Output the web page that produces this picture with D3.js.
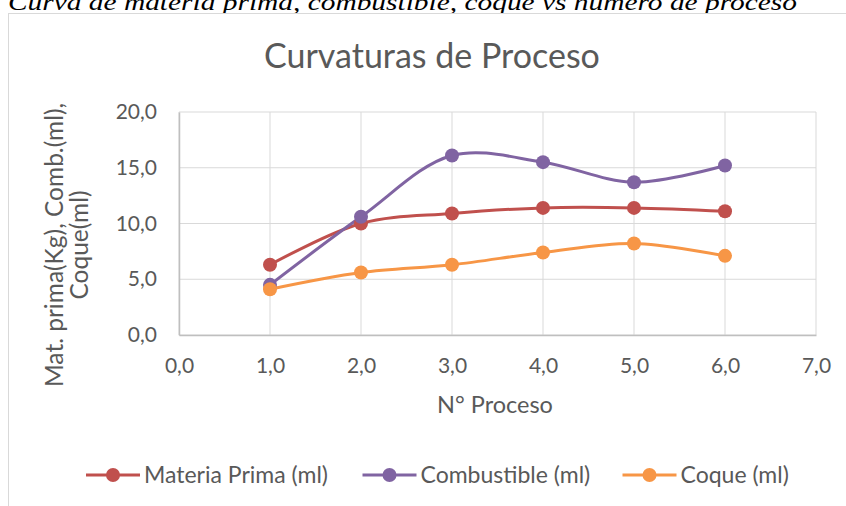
<!DOCTYPE html>
<html><head><meta charset="utf-8">
<script src="https://cdn.jsdelivr.net/npm/d3@7"></script>
<style>body{margin:0;background:#fff;}svg{display:block;}</style>
</head><body>
<svg id="c" width="846" height="506"></svg>
<script>
const categories = [1, 2, 3, 4, 5, 6];
const materiaPrima = [6.3, 10.0, 10.9, 11.4, 11.4, 11.1];
const combustible = [4.5, 10.6, 16.1, 15.5, 13.7, 15.2];
const coque = [4.1, 5.6, 6.3, 7.4, 8.2, 7.1];
const xTicks = [0, 1, 2, 3, 4, 5, 6, 7];
const yTicks = [0, 5, 10, 15, 20];
const seriesNames = ["Materia Prima (ml)", "Combustible (ml)", "Coque (ml)"];
const colors = ["#C0504D", "#8064A2", "#F79646"];
const series = [materiaPrima, combustible, coque];

const svg = d3.select("#c");
const font = "Lato, 'Open Sans', sans-serif";
const txt = "#595959";

// caption
svg.append("text").attr("x", 8).attr("y", 9.5)
  .attr("font-family", "'Liberation Serif', serif").attr("font-style", "italic")
  .attr("font-size", 24).attr("fill", "#000")
  .attr("textLength", 789).attr("lengthAdjust", "spacingAndGlyphs")
  .text("Curva de materia prima, combustible, coque vs número de proceso");

// chart frame
svg.append("rect").attr("x", 8.5).attr("y", 13.5).attr("width", 850).attr("height", 520)
  .attr("fill", "#fff").attr("stroke", "#d9d9d9");

const x = d3.scaleLinear().domain([0, 7]).range([179, 816]);
const y = d3.scaleLinear().domain([0, 20]).range([335, 112]);

// title
svg.append("text").attr("x", 432).attr("y", 68).attr("text-anchor", "middle")
  .attr("font-family", font).attr("font-size", 34).attr("fill", txt)
  .text("Curvaturas de Proceso");

// gridlines
const g = svg.append("g");
g.selectAll(".hg").data(yTicks).join("line")
  .attr("x1", x(0)).attr("x2", x(7)).attr("y1", d => y(d)).attr("y2", d => y(d))
  .attr("stroke", "#d9d9d9").attr("stroke-width", 1);
g.selectAll(".vg").data(xTicks).join("line")
  .attr("y1", y(0)).attr("y2", y(20)).attr("x1", d => x(d)).attr("x2", d => x(d))
  .attr("stroke", "#d9d9d9").attr("stroke-width", 1);

// axes
const fmt = d => d3.format(".1f")(d).replace(".", ",");
const xAxis = svg.append("g").attr("transform", `translate(0,${y(0)})`)
  .call(d3.axisBottom(x).tickValues(xTicks).tickFormat(fmt).tickSize(0));
const yAxis = svg.append("g").attr("transform", `translate(${x(0)},0)`)
  .call(d3.axisLeft(y).tickValues(yTicks).tickFormat(fmt).tickSize(0).tickPadding(22));
[xAxis, yAxis].forEach(a => {
  a.select(".domain").attr("stroke", "#bfbfbf").attr("stroke-width", 1.5);
  a.selectAll("text").attr("font-family", font).attr("font-size", 21).attr("fill", txt);
});
xAxis.selectAll("text").attr("y", 38).attr("dy", 0);

// axis titles
svg.append("text").attr("x", 495).attr("y", 413).attr("text-anchor", "middle")
  .attr("font-family", font).attr("font-size", 23.5).attr("fill", txt).text("N° Proceso");
const yt = svg.append("text").attr("transform", "translate(63,245) rotate(-90)")
  .attr("text-anchor", "middle").attr("font-family", font).attr("font-size", 24.5).attr("fill", txt);
yt.append("tspan").attr("x", 0).attr("y", 0).text("Mat. prima(Kg), Comb.(ml),");
yt.append("tspan").attr("x", 0).attr("y", 25).text("Coque(ml)");

// lines
const line = d3.line().x((d, i) => x(categories[i])).y(d => y(d)).curve(d3.curveCatmullRom.alpha(0.5));
series.forEach((s, k) => {
  svg.append("path").datum(s).attr("d", line).attr("fill", "none")
    .attr("stroke", colors[k]).attr("stroke-width", 3).attr("stroke-linecap", "round");
});
series.forEach((s, k) => {
  svg.append("g").selectAll("circle").data(s).join("circle")
    .attr("cx", (d, i) => x(categories[i])).attr("cy", d => y(d)).attr("r", 7)
    .attr("fill", colors[k]);
});

// legend
const legX = [86, 362.5, 622.5];
seriesNames.forEach((n, k) => {
  const lg = svg.append("g").attr("transform", `translate(${legX[k]},475)`);
  lg.append("line").attr("x1", 0).attr("x2", 54).attr("stroke", colors[k]).attr("stroke-width", 3);
  lg.append("circle").attr("cx", 27).attr("r", 7).attr("fill", colors[k]);
  lg.append("text").attr("x", 58).attr("y", 8).attr("font-family", font).attr("font-size", 23)
    .attr("fill", txt).text(n);
});
</script>
</body></html>
